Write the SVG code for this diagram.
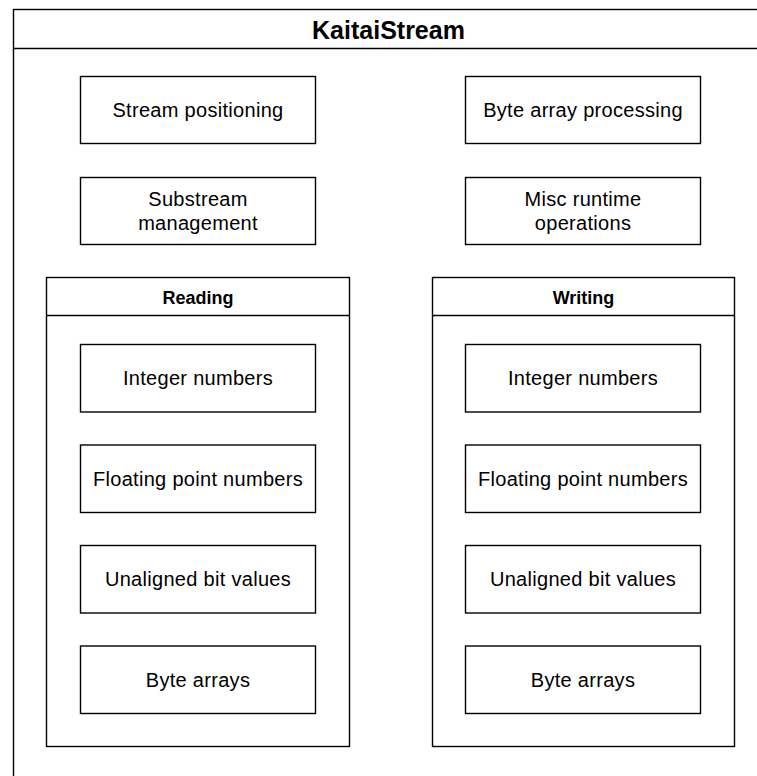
<svg xmlns="http://www.w3.org/2000/svg" width="757" height="776" viewBox="0 0 757 776">
<style>
.box{fill:#fff;stroke:#000;stroke-width:1.4}
.ln{stroke:#000;stroke-width:1.4;fill:none}
.t{font-family:"Liberation Sans",Arial,sans-serif;font-size:20px;fill:#000;text-anchor:middle;letter-spacing:0.3px}
.h1{font-family:"Liberation Sans",Arial,sans-serif;font-size:25px;font-weight:bold;fill:#000;text-anchor:middle}
.h2{font-family:"Liberation Sans",Arial,sans-serif;font-size:18px;font-weight:bold;fill:#000;text-anchor:middle}
</style>
<rect width="757" height="776" fill="#fff"/>
<g id="kaitaistream">
<rect class="box" x="13.5" y="9.5" width="750" height="800"/>
<line class="ln" x1="13.5" y1="48.5" x2="763.5" y2="48.5"/>
<text class="h1" x="388.5" y="38.5">KaitaiStream</text>
</g>
<g id="stream-positioning">
<rect class="box" x="80.5" y="76.5" width="235" height="67"/>
<text class="t" x="198" y="116.5">Stream positioning</text>
</g>
<g id="substream-management">
<rect class="box" x="80.5" y="177.5" width="235" height="67"/>
<text class="t" x="198" y="206">Substream</text>
<text class="t" x="198" y="230">management</text>
</g>
<g id="byte-array-processing">
<rect class="box" x="465.5" y="76.5" width="235" height="67"/>
<text class="t" x="583" y="116.5">Byte array processing</text>
</g>
<g id="misc-runtime-operations">
<rect class="box" x="465.5" y="177.5" width="235" height="67"/>
<text class="t" x="583" y="206">Misc runtime</text>
<text class="t" x="583" y="230">operations</text>
</g>
<g id="reading">
<rect class="box" x="46.5" y="277.5" width="303" height="469"/>
<line class="ln" x1="46.5" y1="315.5" x2="349.5" y2="315.5"/>
<text class="h2" x="198" y="303.5">Reading</text>
</g>
<g id="reading-integer">
<rect class="box" x="80.5" y="344.5" width="235" height="67.5"/>
<text class="t" x="198" y="385">Integer numbers</text>
</g>
<g id="reading-float">
<rect class="box" x="80.5" y="445" width="235" height="67.5"/>
<text class="t" x="198" y="485.5">Floating point numbers</text>
</g>
<g id="reading-bits">
<rect class="box" x="80.5" y="545.5" width="235" height="67.5"/>
<text class="t" x="198" y="586">Unaligned bit values</text>
</g>
<g id="reading-bytes">
<rect class="box" x="80.5" y="646" width="235" height="67.5"/>
<text class="t" x="198" y="686.5">Byte arrays</text>
</g>
<g id="writing">
<rect class="box" x="432.5" y="277.5" width="302" height="469"/>
<line class="ln" x1="432.5" y1="315.5" x2="734.5" y2="315.5"/>
<text class="h2" x="583.5" y="303.5">Writing</text>
</g>
<g id="writing-integer">
<rect class="box" x="465.5" y="344.5" width="235" height="67.5"/>
<text class="t" x="583" y="385">Integer numbers</text>
</g>
<g id="writing-float">
<rect class="box" x="465.5" y="445" width="235" height="67.5"/>
<text class="t" x="583" y="485.5">Floating point numbers</text>
</g>
<g id="writing-bits">
<rect class="box" x="465.5" y="545.5" width="235" height="67.5"/>
<text class="t" x="583" y="586">Unaligned bit values</text>
</g>
<g id="writing-bytes">
<rect class="box" x="465.5" y="646" width="235" height="67.5"/>
<text class="t" x="583" y="686.5">Byte arrays</text>
</g>
<g id="connectors"></g>
</svg>
